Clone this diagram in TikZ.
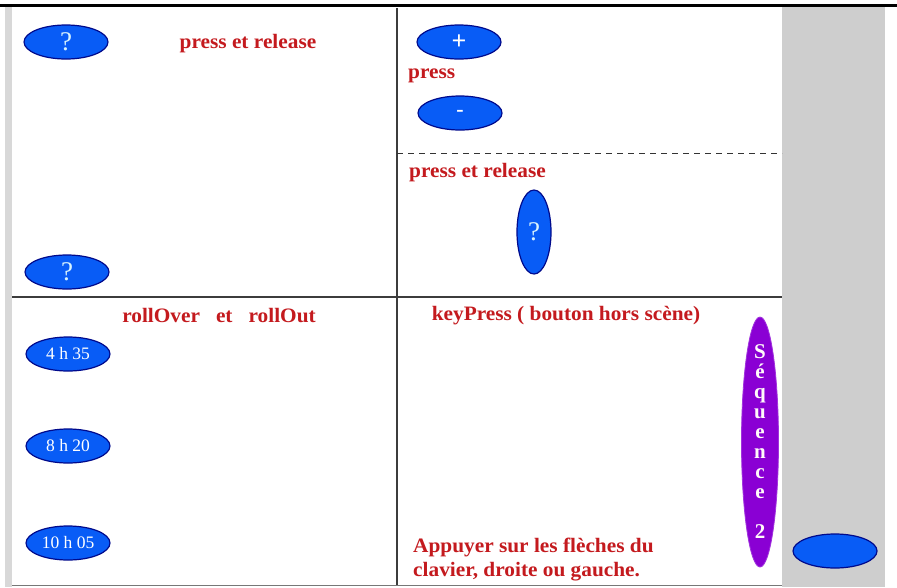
\documentclass[tikz,border=0pt]{standalone}
\usepackage{fontspec}
\setmainfont{Liberation Serif}
\newfontfamily\widefont[FakeStretch=1.04]{Liberation Serif}
\usetikzlibrary{shapes.geometric}
\definecolor{btnblue}{RGB}{8,92,246}
\definecolor{btnedge}{RGB}{0,10,140}
\definecolor{seqpurple}{RGB}{138,0,212}
\definecolor{txtred}{RGB}{196,26,30}
\definecolor{panelgray}{RGB}{206,206,206}
\definecolor{lineg}{RGB}{60,60,60}
\tikzset{
  btn/.style={ellipse, draw=btnedge, line width=1.2pt, fill=btnblue, inner sep=0pt,
    minimum width=84pt, minimum height=34pt, text=white, font=\fontsize{17.5}{18}\selectfont},
  bigq/.style={font=\fontsize{27}{27}\selectfont, text=white!85!cyan},
  vbtn/.style={btn, minimum width=34pt, minimum height=84pt},
  lbl/.style={text=txtred, inner sep=0pt, font=\widefont\bfseries\fontsize{20.5}{24}\selectfont},
}
\begin{document}
\begin{tikzpicture}[x=1pt,y=-1pt]
\useasboundingbox (0,0) rectangle (897,587);
\fill[white] (0,0) rectangle (897,587);
% left gray strip and right gray panel
\fill[panelgray!80] (5,7) rectangle (12,587);
\fill[panelgray] (782,7) rectangle (885,587);
% top rule
\draw[line width=3pt, black] (0,5) -- (897,5);
% grid lines
\draw[lineg, line width=1.2pt] (397,8) -- (397,585);
\draw[lineg, line width=1.2pt] (12,297) -- (782,297);
\draw[lineg!70, line width=1pt] (12,585) -- (782,585);
\draw[black!80, line width=1pt, dashed, dash pattern=on 6pt off 5pt] (397,153) -- (782,153);
% top-left cell
\node[btn, bigq] (q1) at (66,42) {?};
\node[btn, bigq] (q2) at (67,272) {?};
\node[lbl] (t1) at (248,44) {press et release};
% top-right cell
\node[btn, font=\bfseries\fontsize{26}{26}\selectfont] (plus) at (459,42) {+};
\node[lbl, anchor=west] (t2) at (408,76) {press};
\node[btn, font=\bfseries\fontsize{22}{22}\selectfont] (minus) at (460,113) {-};
\node[lbl, anchor=west] (t3) at (409,173) {press et release};
\node[vbtn, bigq] (q3) at (534,232) {?};
% bottom-left cell
\node[lbl] (t4) at (219,316) {rollOver\ \ \ et\ \ \ rollOut};
\node[btn] (h1) at (68,354) {4 h 35};
\node[btn] (h2) at (68,446) {8 h 20};
\node[btn] (h3) at (68,543) {10 h 05};
% bottom-right cell
\node[lbl] (t5) at (566,316) {keyPress ( bouton hors scène)};
\node[lbl, anchor=north west, align=left] (t6) at (413,538) {Appuyer sur les flèches du\\clavier, droite ou gauche.};
\node[ellipse, fill=seqpurple, draw=seqpurple!80!white, line width=0.8pt, inner sep=0pt,
  minimum width=37pt, minimum height=250pt] (seq) at (760,442) {};
\node[text=white!90!pink, align=center, inner sep=0pt,
  font=\bfseries\fontsize{21}{20}\selectfont] (seqtxt) at (seq.center)
  {S\\é\\q\\u\\e\\n\\c\\e\\[20pt]2};
% button in gray panel
\node[btn] (grayb) at (835,551) {};
\end{tikzpicture}
\end{document}
